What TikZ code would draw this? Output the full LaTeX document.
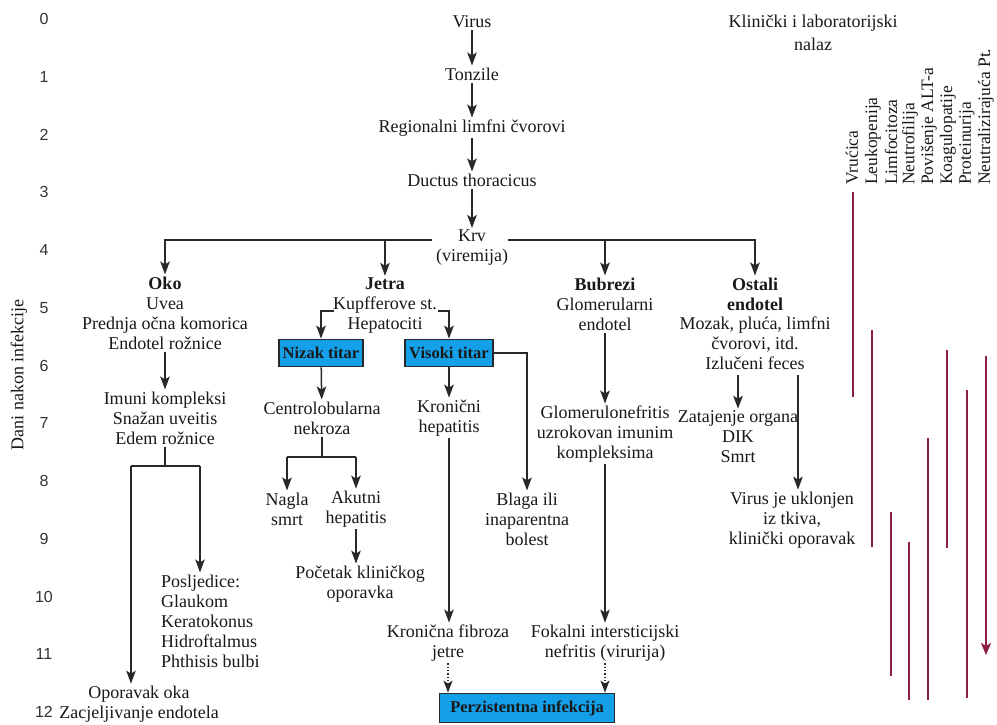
\documentclass[tikz,border=0pt]{standalone}
\usepackage{fontspec}
\setmainfont{Liberation Serif}
\newfontfamily\daysf{Liberation Sans}
\usetikzlibrary{arrows.meta}
\definecolor{txt}{RGB}{25,25,25}
\definecolor{ln}{RGB}{40,40,40}
\definecolor{boxblue}{RGB}{20,160,232}
\definecolor{barred}{RGB}{140,30,65}
\begin{document}
\begin{tikzpicture}[x=1pt,y=-1pt,
 every node/.style={text=txt, inner sep=2pt},
 lbl/.style={align=center, font=\fontsize{18}{20}\selectfont},
 head/.style={align=center, font=\fontsize{18}{20}\selectfont\bfseries},
 tbox/.style={draw=ln, line width=1.8pt, fill=boxblue, font=\fontsize{16.5}{20}\selectfont\bfseries, minimum width=84pt, minimum height=27pt, inner sep=0pt},
 arr/.style={draw=ln, line width=1.5pt, -{Stealth[length=13pt,width=9.5pt,inset=3pt]}},
 con/.style={draw=ln, line width=1.5pt},
 darr/.style={draw=ln, line width=1.3pt, dotted, -{Stealth[length=12pt,width=9pt,inset=3pt]}},
 bar/.style={draw=barred, line width=2.4pt},
 day/.style={font=\daysf\fontsize{16}{18}\selectfont, text=black!80},
 vlab/.style={rotate=90, anchor=west, font=\fontsize{17.5}{20}\selectfont, inner sep=0pt}
]
\fill[white] (0,0) rectangle (997,725);
\useasboundingbox (0,0) rectangle (997,725);

% day axis
\foreach \i in {0,...,12} \node[day] (d\i) at (44,{19+57.75*\i}) {\i};
\node[lbl, rotate=90] (dani) at (19,375) {Dani nakon infekcije};

% main chain
\node[lbl] (virus) at (472,22) {Virus};
\node[lbl] (tonz) at (472,74) {Tonzile};
\node[lbl] (reg) at (472,128) {Regionalni limfni čvorovi};
\node[lbl] (duct) at (472,180) {Ductus thoracicus};
\node[lbl] (krv) at (472,248) {Krv\\(viremija)};
\draw[arr] (virus) -- (tonz);
\draw[arr] (tonz) -- (reg);
\draw[arr] (reg) -- (duct);
\draw[arr] (duct) -- (krv);

\coordinate (hl) at (432,240);
\coordinate (hr) at (508,240);

% Oko
\node[head] (oko) at (165,283) {Oko};
\node[lbl] (oko1) at (165,324) {Uvea\\Prednja očna komorica\\Endotel rožnice};
\node[lbl] (imuni) at (165,418) {Imuni kompleksi\\Snažan uveitis\\Edem rožnice};
\node[lbl, align=left, anchor=west] (posl) at (159,621) {Posljedice:\\Glaukom\\Keratokonus\\Hidroftalmus\\Phthisis bulbi};
\node[lbl] (opor) at (139,704) {Oporavak oka\\Zacjeljivanje endotela};
\draw[arr] (hl) -| (oko.north);
\draw[arr] (oko1) -- (imuni);
\coordinate (ob) at (165,466);
\coordinate (oL) at (131,466);
\coordinate (oR) at (200,466);
\draw[con] (imuni.south) -- (ob);
\draw[con] (oL) -- (oR);
\draw[arr] (oL) -- (oL |- opor.north);
\draw[arr] (oR) -- (oR |- posl.north);

% Jetra
\node[head] (jetra) at (385,284) {Jetra};
\node[lbl] (kup) at (385,315) {Kupfferove st.\\Hepatociti};
\node[tbox] (nizak) at (321,353) {Nizak titar};
\node[tbox, minimum width=88pt] (visoki) at (449,353) {Visoki titar};
\draw[arr] (hl) -| (jetra.north);
\coordinate (kl) at (334,311);
\coordinate (kr) at (438,311);
\draw[arr] (kl) -| (nizak.north);
\draw[arr] (kr) -| (visoki.north);
\node[lbl] (centro) at (322,418) {Centrolobularna\\nekroza};
\node[lbl] (kron) at (449,418) {Kronični\\hepatitis};
\node[lbl] (blaga) at (527,519) {Blaga ili\\inaparentna\\bolest};
\draw[arr] (nizak) -- (centro);
\draw[arr] (visoki) -- (kron);
\draw[arr] (visoki.east) -| (blaga.north);
\node[lbl] (nagla) at (287,509) {Nagla\\smrt};
\node[lbl] (akut) at (356,509) {Akutni\\hepatitis};
\node[lbl] (poc) at (360,584) {Početak kliničkog\\oporavka};
\coordinate (cb) at (322,457);
\coordinate (cbl) at (287,457);
\coordinate (cbr) at (356,457);
\draw[con] (centro.south) -- (cb);
\draw[con] (cbl) -- (cbr);
\draw[arr] (cbl) -- (cbl |- nagla.north);
\draw[arr] (cbr) -- (cbr |- akut.north);
\draw[arr] (akut.south) -- (akut.south |- poc.north);
\node[lbl] (fibr) at (448,643) {Kronična fibroza\\jetre};
\draw[arr] (kron.south) -- (kron.south |- fibr.north);

% Bubrezi
\node[head] (bub) at (605,284) {Bubrezi};
\node[lbl] (glom) at (605,314) {Glomerularni\\endotel};
\node[lbl] (glomn) at (605,434) {Glomerulonefritis\\uzrokovan imunim\\kompleksima};
\node[lbl] (fokal) at (605,643) {Fokalni intersticijski\\nefritis (virurija)};
\draw[arr] (hr) -| (bub.north);
\draw[arr] (glom) -- (glomn);
\draw[arr] (glomn) -- (fokal);

% Perzistentna
\node[tbox, minimum width=175pt, minimum height=29pt] (perz) at (527,708) {Perzistentna infekcija};
\draw[darr] (fibr.south) -- (fibr.south |- perz.north);
\draw[darr] (fokal.south) -- (fokal.south |- perz.north);

% Ostali
\node[head] (ost) at (755,294) {Ostali\\endotel};
\node[lbl] (ost1) at (755,343) {Mozak, pluća, limfni\\čvorovi, itd.\\Izlučeni feces};
\node[lbl] (zat) at (738,437) {Zatajenje organa\\DIK\\Smrt};
\node[lbl] (vir) at (792,520) {Virus je uklonjen\\iz tkiva,\\klinički oporavak};
\draw[arr] (hr) -| (ost.north);
\coordinate (oz) at (738,375);
\coordinate (ov) at (798,375);
\draw[arr] (oz) -- (oz |- zat.north);
\draw[arr] (ov) -- (ov |- vir.north);

% clinical findings
\node[lbl, align=center, font=\fontsize{18}{23}\selectfont] (klin) at (813,33) {Klinički i laboratorijski\\nalaz};
\node[vlab] (l1) at (852,185) {Vrućica};
\node[vlab] (l2) at (873,185) {Leukopenija};
\node[vlab] (l3) at (891,185) {Limfocitoza};
\node[vlab] (l4) at (910,185) {Neutrofilija};
\node[vlab] (l5) at (929,185) {Povišenje ALT-a};
\node[vlab] (l6) at (948,185) {Koagulopatije};
\node[vlab] (l7) at (967,185) {Proteinurija};
\node[vlab] (l8) at (986,185) {Neutralizirajuća Pt.};
\draw[bar] (853,192) -- (853,397);
\draw[bar] (872,330) -- (872,547);
\draw[bar] (891,512) -- (891,676);
\draw[bar] (909,542) -- (909,700);
\draw[bar] (928,438) -- (928,700);
\draw[bar] (947,350) -- (947,548);
\draw[bar] (967,390) -- (967,698);
\draw[bar, -{Stealth[length=12pt,width=10pt,inset=3pt]}] (986,356) -- (986,655);
\end{tikzpicture}
\end{document}
